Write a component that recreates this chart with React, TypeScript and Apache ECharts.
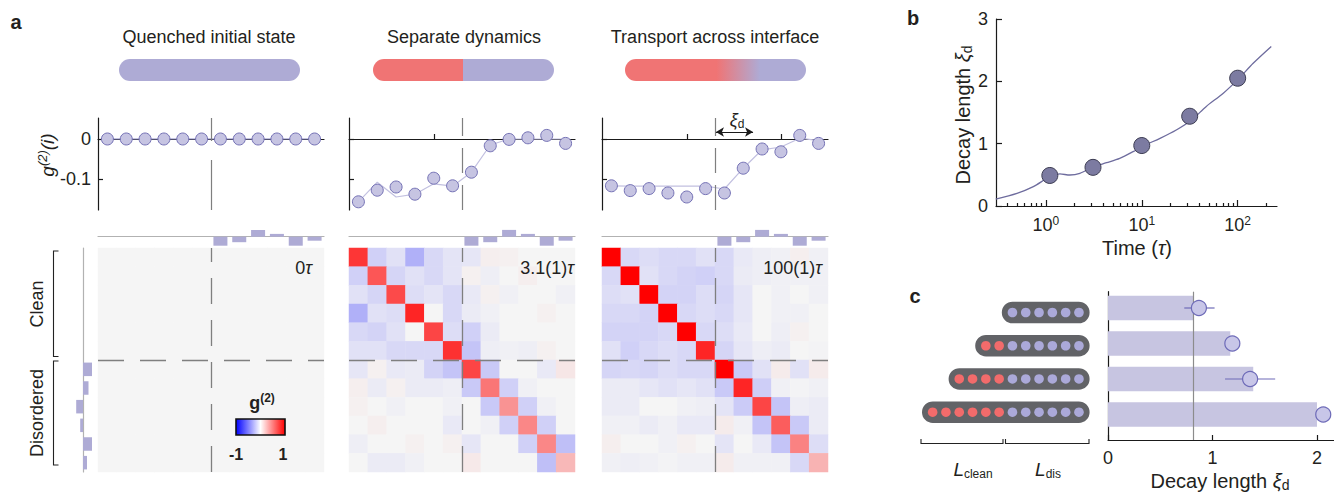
import React, { useEffect, useRef } from "react";
import * as echarts from "echarts";

const FONT = '"Liberation Sans", Arial, Helvetica, sans-serif';
const INK = "#231f20";

// ---------------- panel a data ----------------
const panelTitles = ["Quenched initial state", "Separate dynamics", "Transport across interface"];
const timeLabels = ["0", "3.1(1)", "100(1)"];
const sites = [1, 2, 3, 4, 5, 6, 7, 8, 9, 10, 11, 12];
const g2TickValues = [0, -0.1];
const siteTickValues = [5, 10];

const g2Quenched = [0, 0, 0, 0, 0, 0, 0, 0, 0, 0, 0, 0];
const g2SeparatePoints = [-0.157, -0.128, -0.12, -0.138, -0.098, -0.117, -0.083, -0.017, -0.001, 0.003, 0.009, -0.011];
const g2SeparateFit = [-0.157, -0.108, -0.145, -0.138, -0.112, -0.118, -0.083, -0.015, 0, 0, 0, 0];
const g2TransportPoints = [-0.117, -0.129, -0.124, -0.135, -0.145, -0.124, -0.135, -0.073, -0.025, -0.032, 0.009, -0.011];
const g2TransportFit = [-0.117, -0.118, -0.118, -0.118, -0.118, -0.118, -0.125, -0.073, -0.027, -0.02, 0.002, -0.004];

// on-site disorder potential (marginal bars)
const disorderPotential = [0, 0, 0, 0, 0, 0, -0.9, -0.55, 0.68, 0.28, -0.9, -0.4];

const corrQuenched = [
  [0, 0, 0, 0, 0, 0, 0, 0, 0, 0, 0, 0],
  [0, 0, 0, 0, 0, 0, 0, 0, 0, 0, 0, 0],
  [0, 0, 0, 0, 0, 0, 0, 0, 0, 0, 0, 0],
  [0, 0, 0, 0, 0, 0, 0, 0, 0, 0, 0, 0],
  [0, 0, 0, 0, 0, 0, 0, 0, 0, 0, 0, 0],
  [0, 0, 0, 0, 0, 0, 0, 0, 0, 0, 0, 0],
  [0, 0, 0, 0, 0, 0, 0, 0, 0, 0, 0, 0],
  [0, 0, 0, 0, 0, 0, 0, 0, 0, 0, 0, 0],
  [0, 0, 0, 0, 0, 0, 0, 0, 0, 0, 0, 0],
  [0, 0, 0, 0, 0, 0, 0, 0, 0, 0, 0, 0],
  [0, 0, 0, 0, 0, 0, 0, 0, 0, 0, 0, 0],
  [0, 0, 0, 0, 0, 0, 0, 0, 0, 0, 0, 0],
];
const corrSeparate = [
  [0.78, -0.15, -0.08, -0.28, -0.12, -0.07, -0.06, 0.03, 0.02, 0, 0, 0],
  [-0.15, 0.65, -0.13, -0.08, -0.12, -0.07, 0.02, -0.03, 0, 0.03, 0, 0],
  [-0.08, -0.13, 0.7, -0.1, -0.07, -0.12, -0.05, 0.02, -0.02, 0, 0, -0.02],
  [-0.28, -0.08, -0.1, 0.85, 0, -0.12, -0.04, -0.02, 0, 0, 0.02, 0],
  [-0.12, -0.14, -0.08, 0, 0.72, -0.1, -0.15, -0.04, 0, 0, 0, 0],
  [-0.08, -0.08, -0.12, -0.12, -0.12, 0.8, -0.2, -0.03, -0.02, -0.03, 0.02, 0],
  [-0.06, 0.02, -0.05, -0.04, -0.14, -0.2, 0.72, -0.18, 0, 0, -0.05, 0.06],
  [0.03, -0.04, 0.02, -0.04, -0.04, -0.03, -0.18, 0.52, -0.15, -0.02, 0, 0],
  [0.02, 0, -0.02, 0, 0, -0.02, 0, -0.18, 0.4, -0.15, -0.02, 0],
  [0, 0.03, 0, 0, 0, -0.05, 0, -0.02, -0.15, 0.45, -0.15, 0],
  [-0.03, 0, 0, 0.02, 0, 0.02, -0.06, 0, 0, -0.15, 0.45, -0.22],
  [0, -0.04, -0.04, -0.02, 0, 0, 0.05, 0, 0, 0, -0.22, 0.25],
];
const corrTransport = [
  [1.0, -0.12, -0.1, -0.12, -0.12, -0.08, -0.12, -0.05, -0.03, -0.02, 0.03, -0.02],
  [-0.12, 1.0, -0.08, -0.12, -0.14, -0.15, -0.12, -0.04, -0.03, -0.02, -0.02, -0.02],
  [-0.1, -0.08, 1.0, -0.14, -0.14, -0.1, -0.13, -0.06, 0, -0.02, 0, -0.02],
  [-0.12, -0.12, -0.14, 1.0, -0.12, -0.1, -0.12, -0.06, 0, -0.02, -0.02, 0],
  [-0.14, -0.14, -0.14, -0.12, 1.0, -0.12, -0.1, -0.05, 0, -0.03, 0.02, 0],
  [-0.08, -0.15, -0.12, -0.1, -0.12, 0.85, -0.13, -0.06, -0.03, -0.04, 0, -0.01],
  [-0.13, -0.12, -0.13, -0.1, -0.12, -0.12, 1.0, -0.18, -0.08, 0.04, -0.08, 0.04],
  [-0.04, -0.04, -0.06, -0.08, -0.06, -0.08, -0.18, 0.85, -0.16, -0.02, -0.01, -0.02],
  [-0.04, -0.04, 0, 0, -0.02, -0.03, -0.07, -0.17, 0.72, -0.2, -0.03, -0.04],
  [-0.02, -0.02, -0.04, -0.02, -0.05, -0.05, 0.04, -0.02, -0.2, 0.62, -0.18, -0.04],
  [0.03, 0, 0, -0.02, 0.02, 0, -0.07, 0, -0.05, -0.2, 0.47, -0.1],
  [-0.02, -0.03, -0.02, -0.01, -0.02, -0.02, 0.04, -0.02, -0.02, -0.02, -0.12, 0.27],
];

// ---------------- panel b data ----------------
const timePoints = [1.1, 3.1, 10, 31.6, 100];
const decayPoints = [0.49, 0.62, 0.97, 1.44, 2.05];
const decayErr = [0.08, 0.09, 0.13, 0.1, 0.1];
const fitTime = [0.3, 0.5, 0.74, 1.1, 1.4, 1.78, 2.26, 3.16, 4.29, 5.89, 8.13, 10.5, 15.5, 22.9, 33.1, 46.8, 70.8, 102, 145, 224];
const fitDecay = [0.112, 0.203, 0.31, 0.47, 0.514, 0.497, 0.524, 0.63, 0.695, 0.765, 0.872, 0.968, 1.086, 1.22, 1.38, 1.594, 1.81, 2.04, 2.29, 2.56];
const timeMajorExp = [0, 1, 2];
const timeMinorTicks = [0.4, 0.5, 0.6, 0.7, 0.8, 0.9, 2, 3, 4, 5, 6, 7, 8, 9, 20, 30, 40, 50, 60, 70, 80, 90, 200];
const decayTicks = [0, 1, 2, 3];

// ---------------- panel c data ----------------
const chainNames = ["L6", "L8", "L10", "L12"];
const cleanSites = [0, 2, 4, 6];
const disorderedSites = 6;
const barDecay = [0.82, 1.17, 1.39, 2.0];
const circleDecay = [0.87, 1.19, 1.36, 2.06];
const circleErrLow = [0.73, 1.15, 1.12, 2.02];
const circleErrHigh = [1.02, 1.24, 1.6, 2.11];
const referenceDecay = 0.816;

const LAV = "#aeabd5";
const RED = "#f07474";

function buildOption(): any {
  const grids: any[] = [];
  const xAxes: any[] = [];
  const yAxes: any[] = [];
  const series: any[] = [];
  const addGrid = (left: number, top: number, width: number, height: number) => {
    grids.push({ left, top, width, height, containLabel: false, outerBoundsMode: "none", show: false });
    return grids.length - 1;
  };
  const black = { color: "#1a1a1a", width: 1.2 };
  const lefts = [98, 349, 602];
  const W = 226;

  // line plots (grids 0..2)
  const lineGrid: number[] = [];
  lefts.forEach((l, p) => {
    const gi = addGrid(l, 118, W, 92);
    lineGrid.push(gi);
    xAxes.push({
      gridIndex: gi, type: "value", min: 0.5, max: 12.5,
      axisLine: { show: true, onZero: true, lineStyle: black },
      axisTick: { show: true, inside: true, length: 5, customValues: siteTickValues, lineStyle: black },
      axisLabel: { show: false }, splitLine: { show: false },
    });
    yAxes.push({
      gridIndex: gi, type: "value", min: -0.1775, max: 0.0525,
      axisLine: { show: true, onZero: false, lineStyle: black },
      axisTick: { show: true, inside: true, length: 5, customValues: g2TickValues, lineStyle: black },
      axisLabel: {
        show: p === 0, customValues: g2TickValues, fontSize: 18, color: INK, fontFamily: FONT, margin: 7,
        formatter: (v: number) => String(v),
      },
      splitLine: { show: false },
    });
  });

  // top marginal bars (grids 3..5)
  const topGrid: number[] = [];
  lefts.forEach((l) => {
    const gi = addGrid(l, 224.7, W, 24);
    topGrid.push(gi);
    xAxes.push({
      gridIndex: gi, type: "category", data: sites.map(String), boundaryGap: true,
      axisLine: { show: true, onZero: true, lineStyle: { color: "#b2b2b2", width: 1.2 } },
      axisTick: { show: false }, axisLabel: { show: false }, splitLine: { show: false },
    });
    yAxes.push({ gridIndex: gi, type: "value", min: -1.2, max: 1.2, show: false, splitLine: { show: false } });
  });

  // heatmaps (grids 6..8)
  const heatGrid: number[] = [];
  lefts.forEach((l) => {
    const gi = addGrid(l, 248, W, 224);
    heatGrid.push(gi);
    xAxes.push({ gridIndex: gi, type: "category", data: sites.map(String), show: false });
    yAxes.push({ gridIndex: gi, type: "category", data: sites.map(String), inverse: true, show: false });
  });

  // overlays for dashed lines (grids 9..11)
  const overGrid: number[] = [];
  lefts.forEach((l) => {
    const gi = addGrid(l, 248, W, 224);
    overGrid.push(gi);
    xAxes.push({ gridIndex: gi, type: "value", min: 0.5, max: 12.5, show: false, splitLine: { show: false } });
    yAxes.push({ gridIndex: gi, type: "value", min: 0.5, max: 12.5, show: false, splitLine: { show: false } });
  });

  // left marginal bars (grid 12)
  const leftGrid = addGrid(71, 248, 24, 224);
  xAxes.push({ gridIndex: leftGrid, type: "value", min: -1.2, max: 1.2, inverse: true, show: false, splitLine: { show: false } });
  yAxes.push({
    gridIndex: leftGrid, type: "category", data: sites.map(String), inverse: true,
    axisLine: { show: true, onZero: true, lineStyle: { color: "#b2b2b2", width: 1.2 } },
    axisTick: { show: false }, axisLabel: { show: false }, splitLine: { show: false },
  });

  // panel b (grid 13)
  const bGrid = addGrid(996, 19, 281, 187);
  const bMajorX = xAxes.length;
  xAxes.push({
    gridIndex: bGrid, type: "value", min: -0.52, max: 2.41, position: "bottom",
    axisLine: { show: true, onZero: false, lineStyle: black },
    axisTick: { show: true, inside: true, length: 6, customValues: timeMajorExp, lineStyle: black },
    axisLabel: {
      show: true, customValues: timeMajorExp, margin: 9, color: INK,
      formatter: (v: number) => `{b|10}{s|${Math.round(v)}}`,
      rich: {
        b: { fontSize: 18, fontFamily: FONT, color: INK, lineHeight: 20 },
        s: { fontSize: 12, fontFamily: FONT, color: INK, lineHeight: 8, verticalAlign: "top" },
      },
    },
    splitLine: { show: false },
  });
  yAxes.push({
    gridIndex: bGrid, type: "value", min: 0, max: 3, interval: 1,
    axisLine: { show: true, onZero: false, lineStyle: black },
    axisTick: { show: true, inside: true, length: 6, customValues: decayTicks, lineStyle: black },
    axisLabel: { customValues: decayTicks, fontSize: 18, color: INK, fontFamily: FONT, margin: 8 },
    splitLine: { show: false },
  });

  // panel c bars (grid 14)
  const cBarGrid = addGrid(1108, 308, 225.7, 106.5);
  xAxes.push({ gridIndex: cBarGrid, type: "value", min: 0, max: 2.16, show: false, splitLine: { show: false } });
  yAxes.push({ gridIndex: cBarGrid, type: "category", data: chainNames, inverse: true, boundaryGap: false, show: false });

  // panel c axes (grid 15)
  const cAxGrid = addGrid(1108, 291.7, 225.7, 148.3);
  xAxes.push({
    gridIndex: cAxGrid, type: "value", min: 0, max: 2.16, interval: 1,
    axisLine: { show: true, onZero: false, lineStyle: black },
    axisTick: { show: true, inside: true, length: 5, lineStyle: black },
    axisLabel: { fontSize: 18, color: INK, fontFamily: FONT, margin: 9, showMaxLabel: false },
    splitLine: { show: false },
  });
  yAxes.push({
    gridIndex: cAxGrid, type: "value", min: 0, max: 1,
    axisLine: { show: true, onZero: false, lineStyle: black },
    axisTick: { show: false }, axisLabel: { show: false }, splitLine: { show: false },
  });

  // panel c chains (grid 16)
  const cChainGrid = addGrid(922, 312.5, 167.6, 99.7);
  xAxes.push({ gridIndex: cChainGrid, type: "value", min: -6.8, max: 5.8, show: false, splitLine: { show: false } });
  yAxes.push({ gridIndex: cChainGrid, type: "category", data: chainNames, inverse: true, boundaryGap: false, show: false });

  // panel b minor ticks (extra x axis)
  const bMinorX = xAxes.length;
  xAxes.push({
    gridIndex: bGrid, type: "value", min: -0.52, max: 2.41, position: "bottom",
    axisLine: { show: false },
    axisTick: { show: true, inside: true, length: 3, customValues: timeMinorTicks.map((t) => Math.log10(t)), lineStyle: black },
    axisLabel: { show: false }, splitLine: { show: false },
  });

  // ---------- series ----------
  const pairs = (arr: number[]) => sites.map((s, k) => [s, arr[k]]);
  const vDash = (dash: number[]) => ({
    silent: true, symbol: ["none", "none"], label: { show: false },
    lineStyle: { type: dash, color: "#7f7f7f", width: 1.2 }, data: [{ xAxis: 6.5 }],
  });
  const pointStyle = { color: "#c6c4e2", borderColor: "#7471b5", borderWidth: 1, opacity: 1 };

  series.push({
    type: "line", xAxisIndex: lineGrid[0], yAxisIndex: lineGrid[0], data: pairs(g2Quenched),
    symbol: "circle", symbolSize: 12, z: 4,
    lineStyle: { color: "#8a87c2", width: 1.2 }, itemStyle: pointStyle, markLine: vDash([50, 19]),
  });
  [[g2SeparateFit, g2SeparatePoints], [g2TransportFit, g2TransportPoints]].forEach(([fit, pts], k) => {
    const gi = lineGrid[k + 1];
    series.push({
      type: "line", xAxisIndex: gi, yAxisIndex: gi, data: pairs(fit), showSymbol: false, symbol: "none",
      lineStyle: { color: "#c2c0e0", width: 1.2 }, markLine: vDash([25, 12]), z: 3,
    });
    const sc: any = {
      type: "scatter", xAxisIndex: gi, yAxisIndex: gi, data: pairs(pts), symbolSize: 12, itemStyle: pointStyle, z: 4,
    };
    if (k === 1) {
      sc.markLine = {
        silent: true, symbol: ["arrow", "arrow"], symbolSize: [7, 8], label: { show: false },
        lineStyle: { type: "solid", color: "#1a1a1a", width: 1.2 },
        data: [[{ coord: [6.55, 0.0175] }, { coord: [8.52, 0.0175] }]],
      };
    }
    series.push(sc);
  });

  topGrid.forEach((gi) => {
    series.push({
      type: "bar", xAxisIndex: gi, yAxisIndex: gi, data: disorderPotential, barWidth: 14,
      itemStyle: { color: LAV }, silent: true,
    });
  });

  const heatSeriesIdx: number[] = [];
  const toCells = (m: number[][]) => m.flatMap((row, r) => row.map((v, c) => [c, r, v]));
  [corrQuenched, corrSeparate, corrTransport].forEach((m, k) => {
    heatSeriesIdx.push(series.length);
    series.push({
      type: "heatmap", xAxisIndex: heatGrid[k], yAxisIndex: heatGrid[k], data: toCells(m),
      itemStyle: { borderWidth: 0 }, emphasis: { disabled: true }, progressive: 0, silent: true,
    });
  });

  overGrid.forEach((gi) => {
    series.push({
      type: "line", xAxisIndex: gi, yAxisIndex: gi, data: [[0.5, 0.5]], symbol: "none", z: 5,
      lineStyle: { width: 0 },
      markLine: {
        silent: true, symbol: ["none", "none"], label: { show: false },
        lineStyle: { type: [26, 16], color: "#7f7f7f", width: 1.3 },
        data: [{ xAxis: 6.5 }, { yAxis: 6.5 }],
      },
    });
  });

  series.push({
    type: "bar", xAxisIndex: leftGrid, yAxisIndex: leftGrid, data: disorderPotential, barWidth: 13.5,
    itemStyle: { color: LAV }, silent: true,
  });

  // panel b
  series.push({
    type: "line", xAxisIndex: bMajorX, yAxisIndex: bGrid, smooth: 0.3, symbol: "none",
    data: fitTime.map((t, k) => [Math.log10(t), fitDecay[k]]),
    lineStyle: { color: "#6e6c9e", width: 1.3 }, z: 3,
  });
  series.push({
    type: "custom", xAxisIndex: bMajorX, yAxisIndex: bGrid, z: 3,
    data: timePoints.map((t, k) => [Math.log10(t), decayPoints[k] - decayErr[k], decayPoints[k] + decayErr[k]]),
    encode: { x: 0, y: [1, 2] },
    renderItem: (_p: any, api: any) => {
      const a = api.coord([api.value(0), api.value(1)]);
      const b = api.coord([api.value(0), api.value(2)]);
      return { type: "line", shape: { x1: a[0], y1: a[1], x2: b[0], y2: b[1] }, style: { stroke: "#3c3c52", lineWidth: 1.3 } };
    },
  });
  series.push({
    type: "scatter", xAxisIndex: bMajorX, yAxisIndex: bGrid, z: 6, symbolSize: 16,
    data: timePoints.map((t, k) => [Math.log10(t), decayPoints[k]]),
    itemStyle: { color: "#7c7ba1", borderColor: "#3c3c52", borderWidth: 1, opacity: 1 },
  });

  // panel c
  series.push({
    type: "bar", xAxisIndex: cBarGrid, yAxisIndex: cBarGrid, data: barDecay, barWidth: 24.5,
    itemStyle: { color: "#c7c5e1" }, silent: true, z: 2,
  });
  series.push({
    type: "line", xAxisIndex: cAxGrid, yAxisIndex: cAxGrid, data: [[0, 0]], symbol: "none", z: 3,
    lineStyle: { width: 0 },
    markLine: {
      silent: true, symbol: ["none", "none"], label: { show: false },
      lineStyle: { type: "solid", color: "#8c8c8c", width: 1.2 },
      data: [{ xAxis: referenceDecay }],
    },
  });
  series.push({
    type: "custom", xAxisIndex: cBarGrid, yAxisIndex: cBarGrid, z: 4,
    data: circleErrLow.map((lo, i) => [lo, circleErrHigh[i], i]),
    encode: { x: [0, 1], y: 2 },
    renderItem: (_p: any, api: any) => {
      const a = api.coord([api.value(0), api.value(2)]);
      const b = api.coord([api.value(1), api.value(2)]);
      return { type: "line", shape: { x1: a[0], y1: a[1], x2: b[0], y2: b[1] }, style: { stroke: "#6e6bb8", lineWidth: 1.2 } };
    },
  });
  series.push({
    type: "scatter", xAxisIndex: cBarGrid, yAxisIndex: cBarGrid, z: 6, symbolSize: 15,
    data: circleDecay.map((v, i) => [v, i]),
    itemStyle: { color: "#c8c6e8", borderColor: "#6e6bb8", borderWidth: 1.2, opacity: 1 },
  });
  series.push({
    type: "custom", xAxisIndex: cChainGrid, yAxisIndex: cChainGrid, z: 4,
    data: cleanSites.map((n, i) => [n, i, disorderedSites]),
    encode: { x: 0, y: 1 },
    renderItem: (_p: any, api: any) => {
      const nClean = api.value(0);
      const row = api.value(1);
      const nDis = api.value(2);
      const l = api.coord([-nClean - 0.8, row]);
      const r = api.coord([nDis - 1 + 0.8, row]);
      const h = 21.6;
      const children: any[] = [
        { type: "rect", shape: { x: l[0], y: l[1] - h / 2, width: r[0] - l[0], height: h, r: h / 2 }, style: { fill: "#626367" } },
      ];
      for (let s = -nClean; s < nDis; s++) {
        const c = api.coord([s, row]);
        children.push({ type: "circle", shape: { cx: c[0], cy: c[1], r: 4.8 }, style: { fill: s < 0 ? "#f26b6b" : "#aba9d9" } });
      }
      return { type: "group", children };
    },
  });

  // ---------- graphics ----------
  const T = (x: number, y: number, text: string, style: any = {}, extra: any = {}) => ({
    type: "text", x, y, z: 100, silent: true, ...extra,
    style: { text, fill: INK, fontFamily: FONT, fontSize: 18, align: "center", verticalAlign: "middle", ...style },
  });
  const rs = (o: any) => ({ fontFamily: FONT, fill: INK, ...o });
  const pill = (x: number, stops: any[]) => ({
    type: "rect", z: 100, silent: true, shape: { x, y: 59, width: 181, height: 22, r: 11 },
    style: { fill: { type: "linear", x: 0, y: 0, x2: 1, y2: 0, colorStops: stops } },
  });
  const bracket = (pts: number[][]) => ({
    type: "polyline", z: 100, silent: true, shape: { points: pts }, style: { stroke: "#222", lineWidth: 1.1, fill: "none" },
  });
  const decayRich = {
    n: rs({ fontSize: 20, lineHeight: 22 }),
    x: rs({ fontSize: 20, fontStyle: "italic", lineHeight: 22 }),
    d: rs({ fontSize: 14, lineHeight: 10, verticalAlign: "bottom" }),
  };

  const graphic: any[] = [
    T(16, 22, "a", { fontSize: 20, fontWeight: "bold" }),
    T(913, 18, "b", { fontSize: 20, fontWeight: "bold" }),
    T(915, 296, "c", { fontSize: 20, fontWeight: "bold" }),
    T(209, 37, panelTitles[0]),
    T(464, 37, panelTitles[1]),
    T(715, 37, panelTitles[2]),
    pill(119, [{ offset: 0, color: LAV }, { offset: 1, color: LAV }]),
    pill(373, [{ offset: 0, color: RED }, { offset: 0.497, color: RED }, { offset: 0.497, color: LAV }, { offset: 1, color: LAV }]),
    pill(625, [{ offset: 0, color: RED }, { offset: 0.505, color: RED }, { offset: 0.745, color: LAV }, { offset: 1, color: LAV }]),
    T(47, 155, "{g|g}{s|(2)}{g|(i)}", {
      rich: {
        g: rs({ fontSize: 19, fontStyle: "italic", lineHeight: 22 }),
        s: rs({ fontSize: 13, fontStyle: "italic", lineHeight: 10, verticalAlign: "top" }),
      },
    }, { rotation: Math.PI / 2 }),
    T(37, 304, "Clean", {}, { rotation: Math.PI / 2 }),
    T(37, 413, "Disordered", {}, { rotation: Math.PI / 2 }),
    bracket([[58.5, 251], [53.5, 251], [53.5, 356.5], [58.5, 356.5]]),
    bracket([[58.5, 361], [53.5, 361], [53.5, 465], [58.5, 465]]),
    ...[312, 574, 822].map((x, k) =>
      T(x, 268, `{n|${timeLabels[k]}}{t|τ}`, {
        align: "right",
        rich: { n: rs({ fontSize: 18 }), t: rs({ fontSize: 18, fontStyle: "italic" }) },
      })
    ),
    T(262, 403, "{g|g}{s|(2)}", {
      rich: {
        g: rs({ fontSize: 18, fontWeight: "bold", lineHeight: 22 }),
        s: rs({ fontSize: 12, fontWeight: "bold", lineHeight: 9, verticalAlign: "top" }),
      },
    }),
    {
      type: "rect", z: 100, silent: true, shape: { x: 236, y: 419, width: 49, height: 16 },
      style: {
        fill: {
          type: "linear", x: 0, y: 0, x2: 1, y2: 0,
          colorStops: [{ offset: 0, color: "#0000ff" }, { offset: 0.5, color: "#ffffff" }, { offset: 1, color: "#ff0000" }],
        },
        stroke: "#111", lineWidth: 1.6,
      },
    },
    T(236, 454, "-1", { fontSize: 16, fontWeight: "bold" }),
    T(283, 454, "1", { fontSize: 16, fontWeight: "bold" }),
    T(737, 120, "{x|ξ}{d|d}", {
      rich: { x: rs({ fontSize: 18, fontStyle: "italic", lineHeight: 20 }), d: rs({ fontSize: 12, lineHeight: 8, verticalAlign: "bottom" }) },
    }),
    T(963, 115, "{n|Decay length }{x|ξ}{d|d}", { rich: decayRich }, { rotation: Math.PI / 2 }),
    T(1137, 248, "{n|Time (}{t|τ}{n|)}", {
      rich: { n: rs({ fontSize: 20 }), t: rs({ fontSize: 20, fontStyle: "italic" }) },
    }),
    T(1220, 481, "{n|Decay length }{x|ξ}{d|d}", { rich: decayRich }),
    T(973, 469, "{l|L}{s|clean}", {
      rich: { l: rs({ fontSize: 19, fontStyle: "italic", lineHeight: 22 }), s: rs({ fontSize: 12, lineHeight: 9, verticalAlign: "bottom" }) },
    }),
    T(1048, 469, "{l|L}{s|dis}", {
      rich: { l: rs({ fontSize: 19, fontStyle: "italic", lineHeight: 22 }), s: rs({ fontSize: 12, lineHeight: 9, verticalAlign: "bottom" }) },
    }),
    bracket([[921, 439], [921, 443.5], [1003, 443.5], [1003, 439]]),
    bracket([[1005.5, 439], [1005.5, 443.5], [1089, 443.5], [1089, 439]]),
  ];

  return {
    animation: false,
    backgroundColor: "#ffffff",
    textStyle: { fontFamily: FONT },
    grid: grids,
    xAxis: xAxes,
    yAxis: yAxes,
    visualMap: {
      type: "continuous", show: false, min: -1, max: 1, dimension: 2, seriesIndex: heatSeriesIdx,
      inRange: { color: ["#0000ff", "#f5f5f5", "#ff0000"] },
    },
    series,
    graphic,
  };
}

export default function App() {
  const ref = useRef<HTMLDivElement>(null);
  useEffect(() => {
    const chart = echarts.init(ref.current!, undefined, { renderer: "svg" });
    chart.setOption(buildOption());
    return () => chart.dispose();
  }, []);
  return (
    <div
      ref={ref}
      style={{ position: "fixed", left: 0, top: 0, width: 1334, height: 496, background: "#fff" }}
    />
  );
}
